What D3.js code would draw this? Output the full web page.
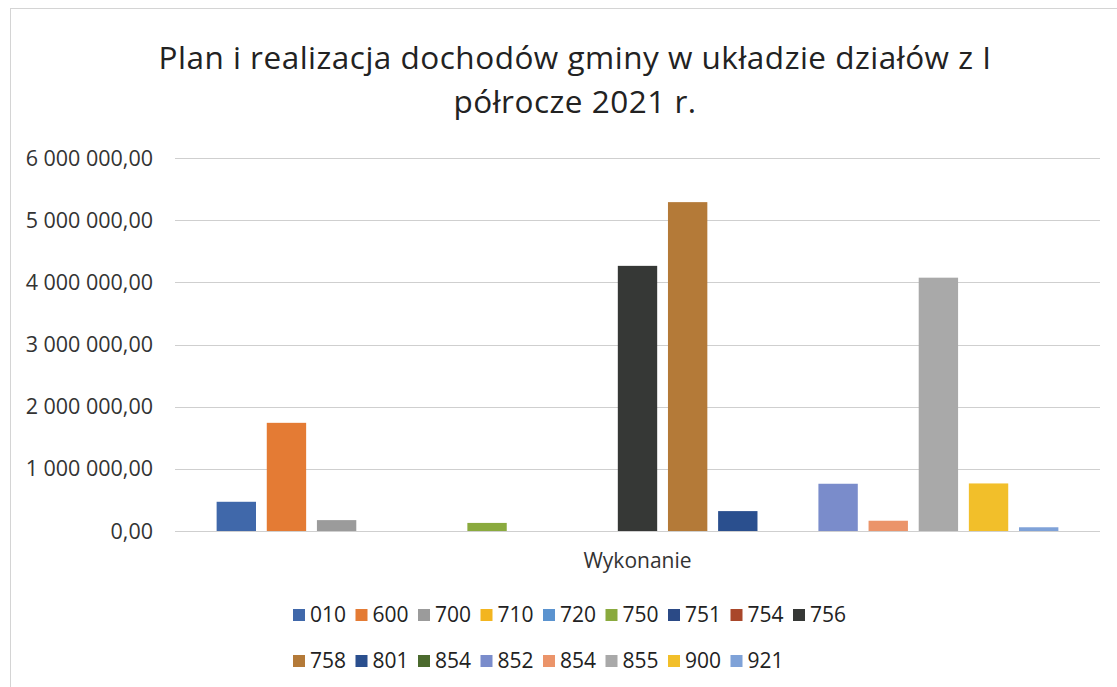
<!DOCTYPE html>
<html><head><meta charset="utf-8">
<script src="https://cdn.jsdelivr.net/npm/d3@7"></script>
<style>body{margin:0;background:#fff}svg{display:block}</style>
</head><body>
<svg id="c" width="1117" height="687"></svg>
<script>
const categories = ["Wykonanie"];
const seriesNames = ["010","600","700","710","720","750","751","754","756","758","801","854","852","854","855","900","921"];
const seriesValues = [470000,1740000,175000,0,0,130000,0,0,4265000,5290000,320000,0,760000,165000,4075000,765000,60000];
const seriesColors = ["#4068aa","#e47b34","#9b9b9b","#f3b51f","#5b93cf","#8aaa3e","#2b4a86","#a9472a","#363836","#b47a38","#2a4f8e","#4b6a2e","#7a8ccb","#eb946a","#a9a9a9","#f2bf2a","#7fa2d8"];
const yTicks = [0,1000000,2000000,3000000,4000000,5000000,6000000];
const titleLines = ["Plan i realizacja dochodów gminy w układzie działów z I","półrocze 2021 r."];

const svg = d3.select("#c");
const font = "Open Sans, Noto Sans, sans-serif";
const W=1117,H=687;
svg.append("rect").attr("x",10.5).attr("y",8.5).attr("width",W+20).attr("height",H+20)
  .attr("fill","none").attr("stroke","#d4d4d4");

const plot={left:175,right:1100,top:158,bottom:531};
const y=d3.scaleLinear().domain([0,6000000]).range([plot.bottom,plot.top]);
const x0=d3.scaleBand().domain(categories).range([plot.left,plot.right]).paddingInner(0).paddingOuter(0.0425);
const idx=d3.range(seriesNames.length);
const x1=d3.scaleBand().domain(idx).range([0,x0.bandwidth()]).paddingInner(0.215).paddingOuter(0.1075);

// gridlines
svg.append("g").selectAll("line").data(yTicks).join("line")
  .attr("x1",plot.left).attr("x2",plot.right)
  .attr("y1",d=>Math.round(y(d))+0.5).attr("y2",d=>Math.round(y(d))+0.5)
  .attr("stroke","#cfcfcf").attr("stroke-width",1.2);

// y axis labels
const fmt=v=>{const s=d3.format(",.2f")(v);return s.replace(/,/g," ").replace(/\.(\d\d)$/,",$1");};
svg.append("g").selectAll("text").data(yTicks).join("text")
  .attr("x",153).attr("y",d=>y(d)).attr("dy","0.35em").attr("text-anchor","end")
  .attr("font-family",font).attr("font-size",21.5).attr("fill","#333").text(fmt);

// bars
const g=svg.append("g").attr("transform",`translate(${x0(categories[0])},0)`);
g.selectAll("rect").data(idx).join("rect")
  .attr("x",i=>x1(i)).attr("width",x1.bandwidth())
  .attr("y",i=>y(seriesValues[i])).attr("height",i=>y(0)-y(seriesValues[i]))
  .attr("fill",i=>seriesColors[i]);

// category label
svg.append("text").attr("x",x0(categories[0])+x0.bandwidth()/2).attr("y",568)
  .attr("text-anchor","middle").attr("font-family",font).attr("font-size",21).attr("fill","#333").text(categories[0]);

// title
svg.append("g").selectAll("text").data(titleLines).join("text")
  .attr("x",575).attr("y",(d,i)=>69+i*44).attr("text-anchor","middle")
  .attr("font-family",font).attr("font-size",31.5).attr("letter-spacing",0.5).attr("fill","#222").text(d=>d);

// legend
const rows=[idx.slice(0,9),idx.slice(9)];
const lx=d3.scaleLinear().domain([0,1]).range([293,355.5]);
rows.forEach((r,ri)=>{
  const lg=svg.append("g").attr("transform",`translate(0,${615+ri*46})`);
  const it=lg.selectAll("g").data(r).join("g").attr("transform",(d,j)=>`translate(${lx(j)},0)`);
  it.append("rect").attr("x",0).attr("y",-6).attr("width",12).attr("height",12).attr("fill",d=>seriesColors[d]);
  it.append("text").attr("x",17).attr("y",0).attr("dy","0.35em").attr("font-family",font)
    .attr("font-size",21).attr("fill","#222").text(d=>seriesNames[d]);
});
</script>
</body></html>
